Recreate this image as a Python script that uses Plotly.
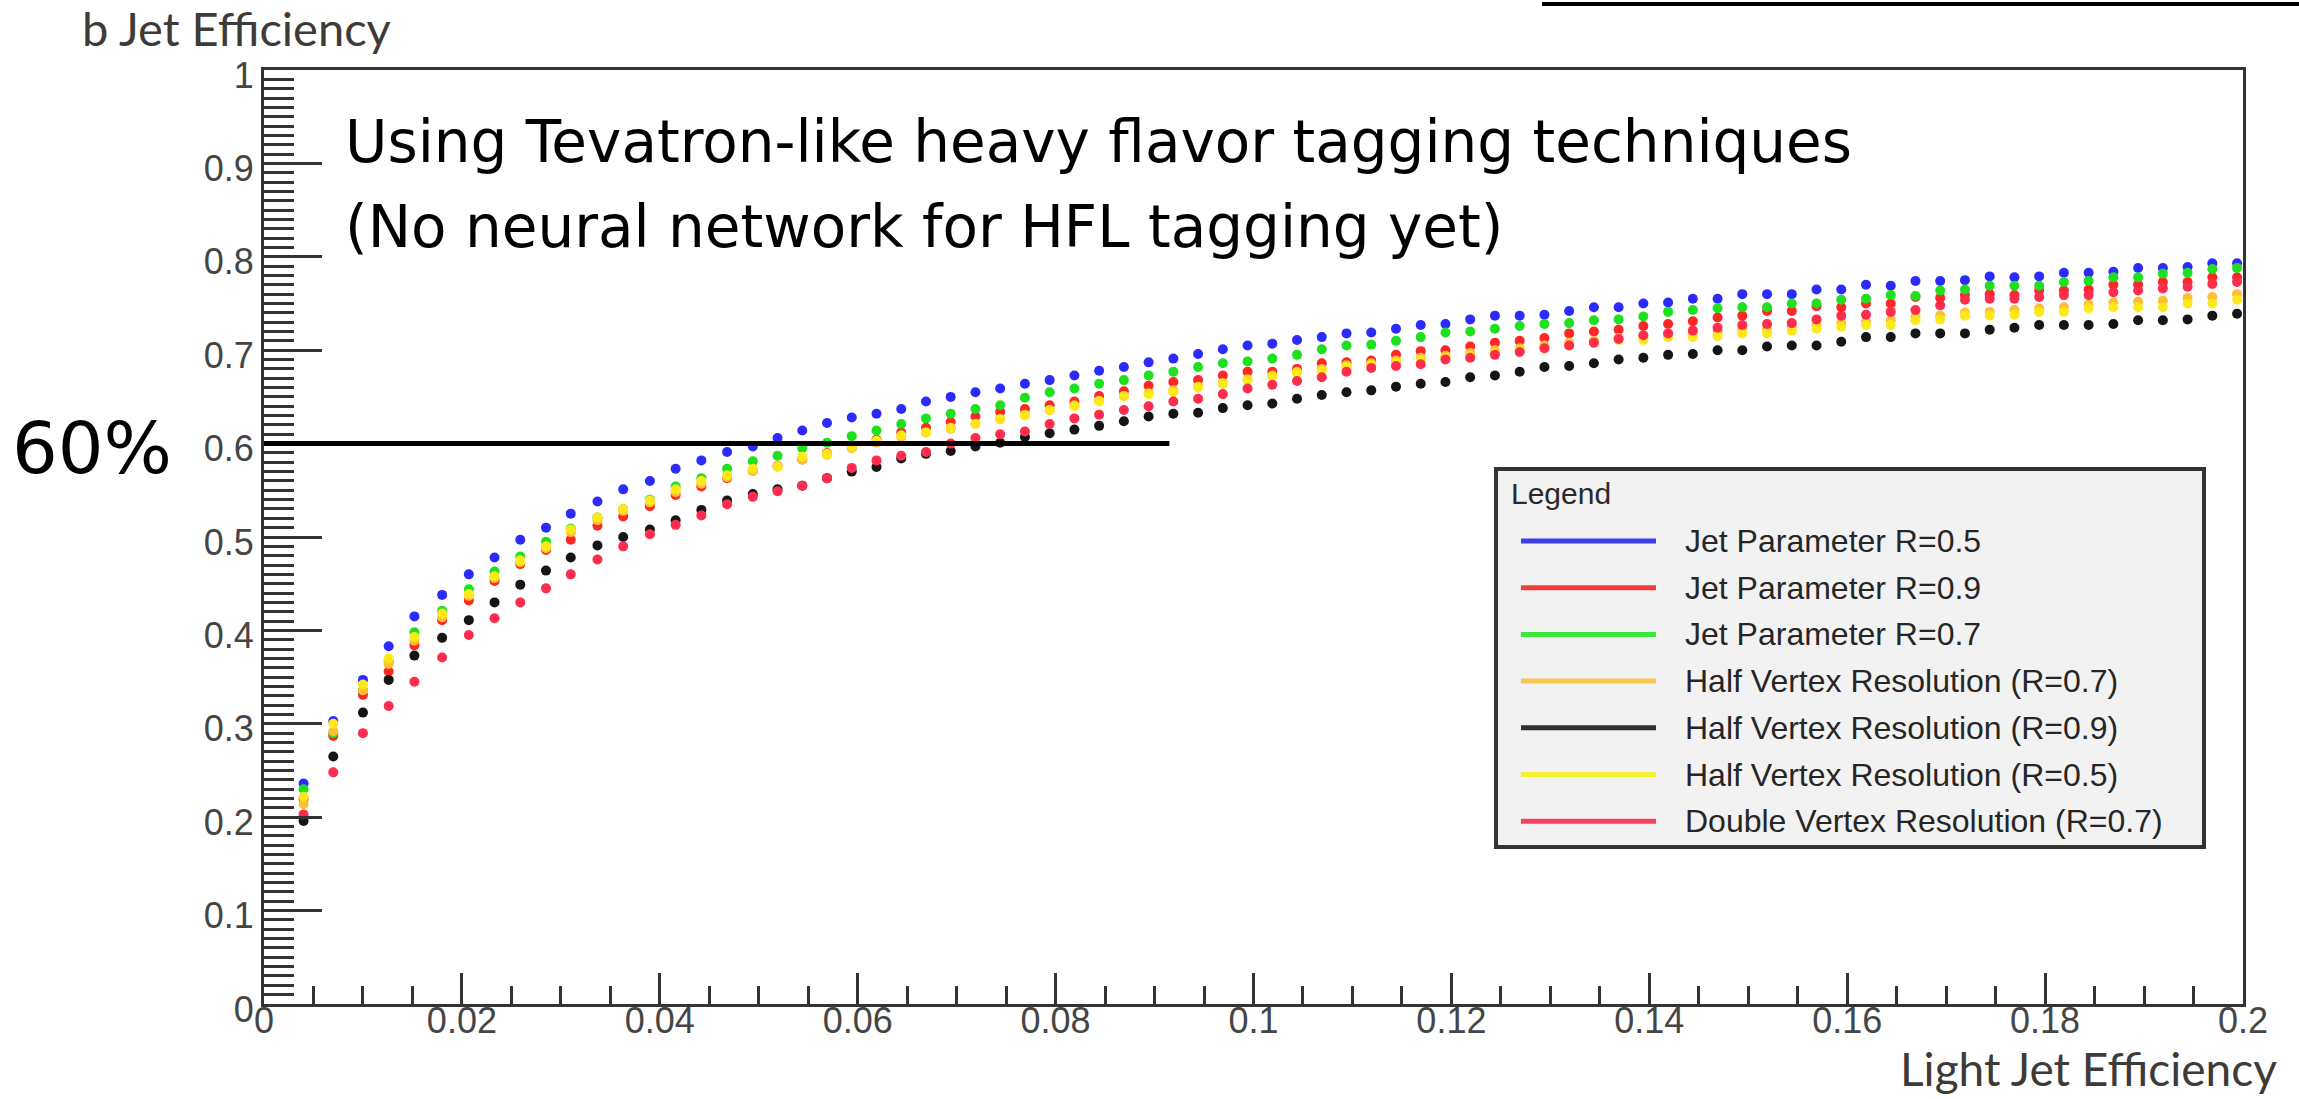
import plotly.graph_objects as go

# ---------------- data ----------------
LIGHT_EFF = [0.0040, 0.0070, 0.0100, 0.0126, 0.0152, 0.0180, 0.0207, 0.0233, 0.0259, 0.0285,
             0.0310, 0.0337, 0.0363, 0.0390, 0.0416, 0.0442, 0.0468, 0.0494, 0.0519, 0.0544,
             0.0569, 0.0594, 0.0619, 0.0644, 0.0669, 0.0694, 0.0719, 0.0744, 0.0769, 0.0794,
             0.0819, 0.0844, 0.0869, 0.0894, 0.0919, 0.0944, 0.0969, 0.0994, 0.1019, 0.1044,
             0.1069, 0.1094, 0.1119, 0.1144, 0.1169, 0.1194, 0.1219, 0.1244, 0.1269, 0.1294,
             0.1319, 0.1344, 0.1369, 0.1394, 0.1419, 0.1444, 0.1469, 0.1494, 0.1519, 0.1544,
             0.1569, 0.1594, 0.1619, 0.1644, 0.1669, 0.1694, 0.1719, 0.1744, 0.1769, 0.1794,
             0.1819, 0.1844, 0.1869, 0.1894, 0.1919, 0.1944, 0.1969, 0.1994]

JET_R05 = [0.236, 0.303, 0.347, 0.383, 0.415, 0.438, 0.460, 0.478, 0.497, 0.510,
           0.525, 0.538, 0.551, 0.560, 0.573, 0.582, 0.591, 0.597, 0.606, 0.614,
           0.622, 0.628, 0.632, 0.637, 0.645, 0.650, 0.655, 0.659, 0.664, 0.668,
           0.673, 0.678, 0.682, 0.687, 0.691, 0.696, 0.701, 0.705, 0.707, 0.711,
           0.714, 0.718, 0.719, 0.723, 0.727, 0.728, 0.733, 0.737, 0.737, 0.738,
           0.742, 0.746, 0.746, 0.750, 0.751, 0.755, 0.755, 0.760, 0.760, 0.760,
           0.765, 0.765, 0.770, 0.769, 0.774, 0.774, 0.775, 0.779, 0.778, 0.779,
           0.783, 0.783, 0.784, 0.788, 0.788, 0.789, 0.793, 0.793]

JET_R09 = [0.220, 0.287, 0.331, 0.356, 0.384, 0.411, 0.432, 0.453, 0.471, 0.486,
           0.497, 0.512, 0.522, 0.533, 0.545, 0.554, 0.563, 0.571, 0.576, 0.583,
           0.590, 0.597, 0.604, 0.612, 0.617, 0.623, 0.629, 0.634, 0.637, 0.641,
           0.645, 0.651, 0.656, 0.662, 0.666, 0.668, 0.673, 0.677, 0.677, 0.680,
           0.686, 0.687, 0.689, 0.695, 0.699, 0.700, 0.704, 0.708, 0.710, 0.713,
           0.718, 0.720, 0.722, 0.726, 0.728, 0.731, 0.735, 0.737, 0.742, 0.742,
           0.747, 0.746, 0.750, 0.750, 0.757, 0.756, 0.759, 0.760, 0.759, 0.764,
           0.764, 0.765, 0.770, 0.770, 0.773, 0.773, 0.778, 0.778]

JET_R07 = [0.230, 0.290, 0.336, 0.367, 0.398, 0.421, 0.444, 0.463, 0.479, 0.495,
           0.509, 0.521, 0.530, 0.540, 0.554, 0.563, 0.573, 0.581, 0.587, 0.595,
           0.601, 0.608, 0.614, 0.621, 0.627, 0.632, 0.637, 0.641, 0.649, 0.655,
           0.659, 0.664, 0.668, 0.673, 0.677, 0.682, 0.686, 0.688, 0.691, 0.695,
           0.701, 0.705, 0.706, 0.710, 0.714, 0.719, 0.720, 0.723, 0.726, 0.728,
           0.729, 0.732, 0.733, 0.736, 0.741, 0.743, 0.745, 0.746, 0.746, 0.750,
           0.750, 0.754, 0.755, 0.759, 0.758, 0.764, 0.765, 0.769, 0.769, 0.769,
           0.773, 0.774, 0.778, 0.778, 0.782, 0.783, 0.787, 0.788]

HALF_VTX_R07 = [0.214, 0.292, 0.336, 0.364, 0.389, 0.414, 0.437, 0.456, 0.473, 0.488,
                0.505, 0.518, 0.528, 0.537, 0.548, 0.557, 0.564, 0.571, 0.576, 0.583,
                0.588, 0.595, 0.601, 0.607, 0.612, 0.616, 0.621, 0.626, 0.631, 0.636,
                0.641, 0.646, 0.651, 0.654, 0.657, 0.661, 0.665, 0.669, 0.673, 0.677,
                0.680, 0.684, 0.686, 0.689, 0.692, 0.694, 0.697, 0.700, 0.702, 0.705,
                0.708, 0.710, 0.713, 0.714, 0.717, 0.718, 0.720, 0.722, 0.723, 0.725,
                0.727, 0.729, 0.731, 0.732, 0.736, 0.737, 0.740, 0.741, 0.743, 0.745,
                0.746, 0.749, 0.751, 0.752, 0.753, 0.756, 0.757, 0.760]

HALF_VTX_R09 = [0.196, 0.265, 0.312, 0.347, 0.373, 0.392, 0.411, 0.430, 0.449, 0.464,
                0.478, 0.491, 0.500, 0.508, 0.518, 0.529, 0.539, 0.546, 0.551, 0.555,
                0.563, 0.570, 0.575, 0.584, 0.589, 0.592, 0.597, 0.601, 0.607, 0.611,
                0.615, 0.619, 0.624, 0.629, 0.632, 0.633, 0.638, 0.641, 0.643, 0.648,
                0.652, 0.655, 0.657, 0.661, 0.664, 0.666, 0.671, 0.673, 0.677, 0.682,
                0.683, 0.686, 0.690, 0.692, 0.695, 0.696, 0.700, 0.700, 0.704, 0.705,
                0.705, 0.709, 0.714, 0.714, 0.718, 0.718, 0.718, 0.722, 0.724, 0.727,
                0.727, 0.727, 0.728, 0.732, 0.732, 0.733, 0.737, 0.739]

HALF_VTX_R05 = [0.222, 0.300, 0.342, 0.370, 0.393, 0.418, 0.439, 0.458, 0.475, 0.490,
                0.508, 0.521, 0.530, 0.539, 0.551, 0.560, 0.566, 0.573, 0.575, 0.586,
                0.589, 0.597, 0.603, 0.609, 0.612, 0.617, 0.621, 0.626, 0.630, 0.636,
                0.640, 0.645, 0.651, 0.653, 0.655, 0.660, 0.664, 0.668, 0.672, 0.676,
                0.678, 0.682, 0.684, 0.687, 0.690, 0.692, 0.694, 0.697, 0.700, 0.702,
                0.705, 0.708, 0.711, 0.711, 0.714, 0.714, 0.715, 0.718, 0.718, 0.721,
                0.723, 0.725, 0.727, 0.727, 0.732, 0.733, 0.737, 0.737, 0.738, 0.741,
                0.741, 0.745, 0.746, 0.746, 0.746, 0.750, 0.750, 0.754]

DOUBLE_VTX_R07 = [0.203, 0.248, 0.290, 0.319, 0.345, 0.371, 0.395, 0.413, 0.430, 0.445,
                  0.460, 0.476, 0.490, 0.503, 0.513, 0.523, 0.535, 0.543, 0.549, 0.555,
                  0.563, 0.574, 0.582, 0.587, 0.591, 0.600, 0.606, 0.610, 0.613, 0.621,
                  0.627, 0.631, 0.636, 0.640, 0.645, 0.648, 0.653, 0.659, 0.663, 0.667,
                  0.671, 0.677, 0.681, 0.683, 0.685, 0.690, 0.692, 0.695, 0.698, 0.702,
                  0.705, 0.708, 0.712, 0.716, 0.718, 0.721, 0.724, 0.727, 0.728, 0.729,
                  0.733, 0.737, 0.738, 0.741, 0.743, 0.748, 0.754, 0.755, 0.755, 0.757,
                  0.759, 0.759, 0.762, 0.764, 0.766, 0.768, 0.771, 0.773]

SERIES_NAMES = ["Jet Parameter R=0.5", "Jet Parameter R=0.9", "Jet Parameter R=0.7",
                "Half Vertex Resolution (R=0.7)", "Half Vertex Resolution (R=0.9)",
                "Half Vertex Resolution (R=0.5)", "Double Vertex Resolution (R=0.7)"]
SERIES_VALUES = [JET_R05, JET_R09, JET_R07, HALF_VTX_R07, HALF_VTX_R09, HALF_VTX_R05, DOUBLE_VTX_R07]
MARKER_COLORS = ["#2b2bff", "#ff2626", "#1fe01f", "#ffbf33", "#151515", "#ffe81a", "#ff2d4d"]
LEGEND_COLORS = ["#3c3cf2", "#f23c3c", "#3ce63c", "#f7c64e", "#2e2e2e", "#f5f032", "#f7405c"]

X_RANGE = [0, 0.2]
Y_RANGE = [0, 1]
X_DTICK, X_MINOR = 0.02, 0.005
Y_DTICK, Y_MINOR = 0.1, 0.01
THRESHOLD_Y = 0.6
THRESHOLD_X_END = 0.0915

TITLE_LINE1 = "Using Tevatron-like heavy flavor tagging techniques"
TITLE_LINE2 = "(No neural network for HFL tagging yet)"
THRESHOLD_LABEL = "60%"
Y_TITLE = "b Jet Efficiency"
X_TITLE = "Light Jet Efficiency"
LEGEND_TITLE = "Legend"

# ---------------- layout geometry (pixels) ----------------
W, H = 2299, 1099
PL, PR, PT, PB = 264, 2243, 70, 1004


def px(x):
    return (x - PL) / (PR - PL)


def py(y):
    return (PB - y) / (PB - PT)


fig = go.Figure()
for name, vals, col in zip(SERIES_NAMES, SERIES_VALUES, MARKER_COLORS):
    fig.add_trace(go.Scatter(x=LIGHT_EFF, y=vals, mode="markers", name=name,
                             marker=dict(size=10, color=col, line=dict(width=0)),
                             showlegend=False, cliponaxis=True))

axis_common = dict(showline=True, linecolor="#333333", linewidth=3, mirror=True,
                   ticks="inside", tickwidth=3, tickcolor="#333333",
                   showgrid=False, zeroline=False,
                   tickfont=dict(family="Liberation Sans, Arial, sans-serif", size=36, color="#454545"))

fig.update_xaxes(range=X_RANGE, tick0=0, dtick=X_DTICK, ticklen=31,
                 ticklabelstandoff=-17,
                 minor=dict(ticks="inside", ticklen=18, tickwidth=3, tickcolor="#333333",
                            tick0=0, dtick=X_MINOR, showgrid=False),
                 **axis_common)
fig.update_yaxes(range=Y_RANGE, tick0=0, dtick=Y_DTICK, ticklen=58,
                 ticklabelstandoff=0, ticklabelshift=5,
                 minor=dict(ticks="inside", ticklen=30, tickwidth=3, tickcolor="#333333",
                            tick0=0, dtick=Y_MINOR, showgrid=False),
                 **axis_common)

shapes = []
annotations = []

# 60% reference line
shapes.append(dict(type="line", xref="x", yref="y", x0=X_RANGE[0], x1=THRESHOLD_X_END,
                   y0=THRESHOLD_Y, y1=THRESHOLD_Y, line=dict(color="black", width=5)))
# decorative underline at the top right (slide remnant)
shapes.append(dict(type="line", xref="paper", yref="paper", x0=px(1542), x1=px(2299),
                   y0=py(4), y1=py(4), line=dict(color="black", width=4)))

big_font = dict(family="DejaVu Sans, Open Sans, sans-serif", size=58, color="black")
annotations.append(dict(text=TITLE_LINE1, xref="paper", yref="paper", x=px(343), y=py(142),
                        xanchor="left", yanchor="middle", showarrow=False, font=big_font))
annotations.append(dict(text=TITLE_LINE2, xref="paper", yref="paper", x=px(343), y=py(227),
                        xanchor="left", yanchor="middle", showarrow=False, font=big_font))
annotations.append(dict(text=THRESHOLD_LABEL, xref="paper", yref="paper", x=px(10), y=py(448),
                        xanchor="left", yanchor="middle", showarrow=False,
                        font=dict(family="DejaVu Sans, Open Sans, sans-serif", size=72, color="black")))

annotations.append(dict(text=Y_TITLE, xref="paper", yref="paper", x=px(80), y=py(28),
                        xanchor="left", yanchor="middle", showarrow=False,
                        font=dict(family="Lato, Open Sans, sans-serif", size=47, color="#3d3a38")))
annotations.append(dict(text=X_TITLE, xref="paper", yref="paper", x=px(2279), y=py(1098),
                        xanchor="right", yanchor="bottom", showarrow=False,
                        font=dict(family="Lato, Open Sans, sans-serif", size=46, color="#3d3a38")))

# legend box (ROOT style)
LX0, LX1, LY0, LY1 = 1496, 2204, 469, 847
shapes.append(dict(type="rect", xref="paper", yref="paper", x0=px(LX0), x1=px(LX1),
                   y0=py(LY1), y1=py(LY0), fillcolor="#f2f2f2",
                   line=dict(color="#333333", width=4), layer="above"))
annotations.append(dict(text=LEGEND_TITLE, xref="paper", yref="paper", x=px(1509), y=py(493),
                        xanchor="left", yanchor="middle", showarrow=False,
                        font=dict(family="Liberation Sans, Arial, sans-serif", size=30, color="#2a2a2a")))
entry_y0, entry_dy = 541, 46.7
for i, (name, col) in enumerate(zip(SERIES_NAMES, LEGEND_COLORS)):
    yy = entry_y0 + i * entry_dy
    shapes.append(dict(type="line", xref="paper", yref="paper", x0=px(1521), x1=px(1656),
                       y0=py(yy), y1=py(yy), line=dict(color=col, width=5), layer="above"))
    annotations.append(dict(text=name, xref="paper", yref="paper", x=px(1683), y=py(yy),
                            xanchor="left", yanchor="middle", showarrow=False,
                            font=dict(family="Liberation Sans, Arial, sans-serif", size=32,
                                      color="#262626")))

fig.update_layout(width=W, height=H, autosize=False,
                  margin=dict(l=PL, r=W - PR, t=PT, b=H - PB, pad=0),
                  paper_bgcolor="white", plot_bgcolor="white",
                  showlegend=False, shapes=shapes, annotations=annotations)

fig.write_html("out.html")
